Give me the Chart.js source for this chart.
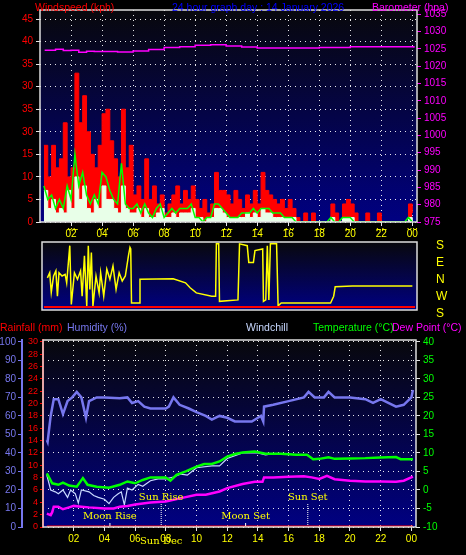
<!DOCTYPE html>
<html>
<head>
<meta charset="utf-8">
<script src="https://cdn.jsdelivr.net/npm/chart.js@4.4.1/dist/chart.umd.min.js"></script>
<style>
  body { margin: 0; background: #000; width: 466px; height: 555px; overflow: hidden; position: relative; font-family: "Liberation Sans", sans-serif; }
  canvas { position: absolute; left: 0; }
  .t { position: absolute; font-size: 10.5px; white-space: nowrap; line-height: 12px; }
  .dir { position: absolute; left: 436px; color: #ffff00; font-size: 12px; }
</style>
</head>
<body>
<canvas id="windChart" width="466" height="240" style="top:0"></canvas>
<canvas id="dirChart" width="466" height="95" style="top:228px"></canvas>
<canvas id="tempChart" width="466" height="225" style="top:330px"></canvas>

<div class="t" style="left:35px;top:1px;color:#ff0000">Windspeed (kph)</div>
<div class="t" style="left:172px;top:1px;color:#0000ff">24 hour graph day : 14 January 2026</div>
<div class="t" style="left:372px;top:1px;color:#ff00ff">Barometer (hpa)</div>

<div class="dir" style="top:238px">S</div>
<div class="dir" style="top:255px">E</div>
<div class="dir" style="top:272px">N</div>
<div class="dir" style="top:289px">W</div>
<div class="dir" style="top:306px">S</div>

<div class="t" style="left:0px;top:321px;color:#ff0000">Rainfall (mm)</div>
<div class="t" style="left:67px;top:321px;color:#7777ee">Humidity (%)</div>
<div class="t" style="left:246px;top:321px;color:#c8d8ff">Windchill</div>
<div class="t" style="left:313px;top:321px;color:#00ff00">Temperature (°C)</div>
<div class="t" style="left:392px;top:321px;color:#ff00ff">Dew Point (°C)</div>

<script>
// ---- wind (15 min samples from 00:15) ----
const windStart = 0.25;
const windStep = 0.25;
const gustValues = [17,10,17,12,14,22,10,12,33,22,28,20,15,12,17,24,25,18,14,10,25,12,17,6,
  8,5,14,5,8,4,6,2,4,6,8,4,7,5,8,5,3,5,2,4,11,7,7,6,4,7,5,3,6,4,7,4,11,7,6,5,4,5,3,5,3,1,
  0,2,0,2,0,0,0,0,4,2,0,4,5,4,2,0,0,2,0,0,2,0,0,0,0,0,0,0,4,2];
const avgValues = [8,5,6,3,5,3,8,5,15,8,11,6,4,6,4,11,10,7,5,4,13,4,3,3,
  4,2,4,2,1,3,4,1,2,3,2,3,3,3,4,1,1,0,1,1,4,4,3,2,1,1,1,2,2,2,3,2,3,3,3,2,2,2,1,1,1,0,
  0,0,0,0,0,0,0,0,1,0,0,1,1,1,0,0,0,0,0,0,0,0,0,0,0,0,0,0,1,0];
const speedValues = [7,3,5,2,3,2,7,3,10,5,8,3,2,5,3,8,5,5,3,2,8,3,2,2,
  3,1,3,1,1,2,3,1,1,2,1,2,2,2,3,1,1,0,1,1,3,3,2,1,1,1,1,1,2,1,2,1,3,2,2,1,1,1,1,1,1,0,
  0,0,0,0,0,0,0,0,1,0,0,1,1,1,0,0,0,0,0,0,0,0,0,0,0,0,0,0,1,0];
const windLeftLabels = ['0','5','10','15','30','35','30','35','40','45'];

const baroTimes = [0.3,1,1.5,2,2.5,3,3.5,4,5,6,7,8,9,10,11,12,13,14,16,17,18,20,22,23.5,24.1];
const baroValues = [1024.6,1024.9,1024.5,1024.6,1024.0,1024.3,1024.2,1024.2,1024.1,1024.4,1024.8,1025.4,1025.6,1026.0,1026.2,1025.8,1025.5,1025.2,1025.2,1025.2,1025.4,1025.6,1025.6,1025.6,1025.3];

// ---- wind direction (degrees, N = 0) ----
const dirTimes = [0.35,0.5,0.6,0.75,0.9,1.0,1.1,1.3,1.5,1.6,1.8,1.9,2.1,2.3,2.5,2.6,2.75,2.9,3.0,3.1,3.2,3.3,3.5,3.7,3.8,4.0,4.2,4.4,4.6,4.8,5.0,5.2,5.4,5.6,5.7,5.75,5.8,
  6.3,6.35,8.5,9.3,9.6,10,11.0,11.25,11.3,11.45,11.5,12.7,12.8,13.3,13.4,13.7,13.8,14.3,14.35,14.5,14.6,14.7,14.8,15.2,15.3,15.5,18.7,18.9,19.0,20.1,24.0];
const dirValues = [-10,18,-90,0,28,-110,18,0,9,-37,165,-155,18,-18,28,-110,110,-165,165,-73,128,-165,0,-92,18,-110,37,-18,55,-73,18,-27,0,110,156,147,-147,
  -147,-18,-15,-37,-64,-92,-110,-110,175,175,-138,-130,175,165,74,74,138,147,-138,-130,165,-130,175,175,-162,-147,-147,-110,-59,-55,-55];

// ---- temperature panel ----
const humTimes = [0.25,0.3,0.5,0.7,1.0,1.3,1.6,1.9,2.2,2.5,2.8,3.0,3.5,4.0,5.0,5.5,5.8,6.2,6.6,7.0,8.0,8.2,8.5,8.9,9.5,10,10.6,11,11.5,12,12.5,13,13.6,14,14.2,14.35,14.4,15,16,17,17.3,17.7,18.3,18.6,19,20,21,21.5,22,23,23.5,24,24.1];
const humValues = [47,46,60,69,69,61,68,70,73,70,59,68,70,70,69.5,70,67,68,65,64,64,65,70,66,64,62,60,58,60,59,57,57,57,59,60,57,65,66,68,70,73,70,70,73,70,70,69,67,69,65,66,70,74];

const tempTimes = [0.25,0.6,1.0,1.3,1.7,2.2,2.6,2.9,3.5,4.3,5.0,5.5,6.0,6.5,7.0,8.0,8.3,8.7,9.3,10,10.5,11,11.5,12,12.5,13,13.8,14.5,15.5,16.5,17.2,17.6,18,18.6,19,20,21,22,23,23.3,24.1];
const tempValues = [4.5,1.8,1.4,2.0,1.2,0.9,3.2,1.4,0.9,0.6,1.4,2.3,1.8,2.7,3.4,3.4,2.5,4.1,5.0,6.3,7.0,7.0,7.7,9.0,9.7,10.1,10.4,9.8,9.8,9.5,9.5,8.3,8.4,8.8,8.4,8.5,8.6,8.8,8.9,8.3,8.3];

const dewTimes = [0.25,0.5,0.6,0.7,1.0,1.3,1.7,2.0,2.5,3.0,4.0,4.6,5.0,5.5,6.0,7.0,8.0,9.0,10.0,10.6,11.5,12.0,13,13.8,14.3,14.4,15,16,17,17.5,18,18.5,19,20,21,22,23,23.5,24.1];
const dewValues = [-6.4,-6.8,-6.0,-4.5,-4.5,-5.2,-4.7,-4.3,-4.5,-4.7,-5.0,-5.0,-4.5,-4.3,-3.9,-3.4,-3.1,-2.2,-1.3,-1.3,-0.4,0.5,1.6,2.2,2.2,3.4,3.4,3.6,3.7,3.4,3.0,3.8,2.9,2.5,2.3,2.3,2.2,2.5,3.6];

const chillTimes = [0.25,0.5,0.8,1.0,1.3,1.6,1.8,2.1,2.3,2.5,3.0,3.3,3.6,4.0,4.3,4.6,4.9,5.1,5.3,5.5,5.8,6.2,6.5,7.0,7.5,8.0,8.5,9.0,9.4,9.7,10,11,11.5,12,13,14,14.5,15];
const chillValues = [4,0,-0.5,-1,0,-2,0,-1,-3.5,0,-0.5,-1.5,-2,-2.5,-3.7,-2,-1,-0.5,-4,0.5,0,1.5,1,2.5,3,3,3.5,4.3,4,5,6,6.5,6.5,8.5,10,10,9.5,9.8];

const rainTimes = [0.25,24.1];
const rainValues = [0,0];

const eventNames = ['Moon Rise','Sun Rise','Moon Set','Sun Set'];
const eventHours = [4.36,7.7,13.2,17.25];

const hourLabel = v => (v % 2 === 0 && v > 0) ? String(v % 24).padStart(2, '0') : '';
const pts = (xs, ys) => xs.map((x, i) => ({ x: x, y: ys[i] }));
const windPts = vals => vals.map((v, i) => ({ x: windStart + i * windStep, y: v }));
const font = { family: 'Liberation Sans', size: 10 };
const dotted = { color: 'rgba(255,255,255,0.9)', lineWidth: 1, tickLength: 4 };
const hourTicks = s => { s.ticks = [2,4,6,8,10,12,14,16,18,20,22,24].map(v => ({ value: v })); };
const fixed = list => s => { s.ticks = list.map(v => ({ value: v })); };

const plotBg = {
  id: 'plotBg',
  beforeDraw(chart) {
    const { ctx, chartArea: a } = chart;
    const g = ctx.createLinearGradient(0, a.top, 0, a.bottom);
    g.addColorStop(0, '#08080c');
    g.addColorStop(1, '#000082');
    ctx.save();
    ctx.fillStyle = g;
    ctx.fillRect(a.left, a.top, a.right - a.left, a.bottom - a.top);
    ctx.restore();
  },
  afterDraw(chart) {
    const { ctx, chartArea: a } = chart;
    ctx.save();
    ctx.strokeStyle = '#dddddd';
    ctx.lineWidth = 1.5;
    ctx.strokeRect(a.left, a.top, a.right - a.left, a.bottom - a.top);
    ctx.restore();
  }
};

function fixWidth(w) { return s => { s.width = w; }; }
function fixHeight(h) { return s => { s.height = h; }; }

Chart.defaults.animation = false;
Chart.defaults.plugins.legend.display = false;
Chart.defaults.plugins.tooltip.enabled = false;

// ---- top chart ----
new Chart(document.getElementById('windChart'), {
  type: 'line',
  data: {
    datasets: [
      { data: pts(baroTimes, baroValues), yAxisID: 'baro', borderColor: '#ff00ff', borderWidth: 1.5, pointRadius: 0, stepped: true, order: 0 },
      { data: windPts(avgValues), borderColor: '#00ff00', borderWidth: 1.5, pointRadius: 0, order: 1 },
      { data: windPts(speedValues), borderColor: '#e8ffe8', backgroundColor: '#e8ffe8', borderWidth: 1, fill: 'origin', stepped: true, pointRadius: 0, order: 2 },
      { data: windPts(gustValues), borderColor: '#ff0000', backgroundColor: '#ff0000', borderWidth: 1, fill: 'origin', stepped: true, pointRadius: 0, order: 3 }
    ]
  },
  options: {
    responsive: false,
    layout: { padding: { top: 10, bottom: 0 } },
    scales: {
      x: { type: 'linear', offset: false, min: 0, max: 24.3, afterFit: fixHeight(18), afterBuildTicks: hourTicks,
        ticks: { color: '#ffff00', font, padding: 2, maxRotation: 0, autoSkip: false, callback: hourLabel },
        grid: { ...dotted, drawTicks: true }, border: { dash: [1, 4], display: false } },
      y: { min: 0, max: 47, afterFit: fixWidth(40), afterBuildTicks: fixed([0,5,10,15,20,25,30,35,40,45]),
        ticks: { color: '#ff0000', font, padding: 3, autoSkip: false, callback: (v, i) => windLeftLabels[i] },
        grid: { ...dotted }, border: { dash: [1, 4], display: false } },
      baro: { position: 'right', min: 975, max: 1036.2, afterFit: fixWidth(49),
        afterBuildTicks: fixed([975,980,985,990,995,1000,1005,1010,1015,1020,1025,1030,1035]),
        ticks: { color: '#ff00ff', font, padding: 3, autoSkip: false, callback: v => String(v) },
        grid: { drawOnChartArea: false, color: '#ff00ff', tickLength: 4 }, border: { display: false } }
    }
  },
  plugins: [plotBg]
});

// ---- wind direction chart ----
const dirDecor = {
  id: 'dirDecor',
  afterDatasetsDraw(chart) {
    const { ctx, chartArea: a } = chart;
    ctx.save();
    ctx.strokeStyle = '#ff0000';
    ctx.lineWidth = 2;
    ctx.beginPath(); ctx.moveTo(a.left + 2, a.bottom - 3); ctx.lineTo(a.right - 2, a.bottom - 3); ctx.stroke();
    ctx.restore();
  }
};
new Chart(document.getElementById('dirChart'), {
  type: 'line',
  data: { datasets: [
    { data: pts(dirTimes, dirValues), borderColor: '#ffff00', borderWidth: 1.5, pointRadius: 0 }
  ] },
  options: {
    responsive: false,
    layout: { padding: { bottom: 13 } },
    scales: {
      x: { type: 'linear', position: 'top', min: 0, max: 24.3, afterFit: fixHeight(14), afterBuildTicks: hourTicks,
        ticks: { color: '#ffff00', font, padding: 1, maxRotation: 0, autoSkip: false, callback: hourLabel },
        grid: { display: false }, border: { display: false } },
      y: { min: -185, max: 185, afterFit: fixWidth(42), ticks: { display: false },
        grid: { display: false }, border: { display: false } },
      r2: { position: 'right', afterFit: fixWidth(49), ticks: { display: false }, grid: { display: false }, border: { display: false } }
    }
  },
  plugins: [plotBg, dirDecor]
});

// ---- temperature / humidity chart ----
const eventDecor = {
  id: 'eventDecor',
  afterDatasetsDraw(chart) {
    const { ctx, scales } = chart;
    const bottom = chart.chartArea.bottom;
    ctx.save();
    ctx.font = '10px "DejaVu Serif"';
    ctx.textAlign = 'center';
    eventNames.forEach((name, i) => {
      const x = scales.x.getPixelForValue(eventHours[i]);
      const isSun = name.startsWith('Sun');
      const labelY = isSun ? bottom - 27 : bottom - 8;
      ctx.strokeStyle = '#ffffff';
      ctx.setLineDash(isSun ? [1, 1] : []);
      ctx.beginPath(); ctx.moveTo(x, labelY + 4); ctx.lineTo(x, bottom - 1); ctx.stroke();
      ctx.fillStyle = '#ffff00';
      ctx.fillText(name, x, labelY);
    });
    ctx.setLineDash([]);
    ctx.fillText('Sun Dec', scales.x.getPixelForValue(eventHours[1]), bottom + 17);
    ctx.restore();
  }
};
new Chart(document.getElementById('tempChart'), {
  type: 'line',
  data: { datasets: [
    { data: pts(rainTimes, rainValues), yAxisID: 'rain', borderColor: '#ff0000', borderWidth: 3, pointRadius: 0 },
    { data: pts(humTimes, humValues), yAxisID: 'hum', borderColor: '#7777ee', borderWidth: 2.5, pointRadius: 0 },
    { data: pts(dewTimes, dewValues), yAxisID: 'temp', borderColor: '#ff00ff', borderWidth: 2.5, pointRadius: 0 },
    { data: pts(tempTimes, tempValues), yAxisID: 'temp', borderColor: '#00ff00', borderWidth: 2.5, pointRadius: 0 },
    { data: pts(chillTimes, chillValues), yAxisID: 'temp', borderColor: '#c8d8ff', borderWidth: 1.2, pointRadius: 0, order: 1 }
  ] },
  options: {
    responsive: false,
    layout: { padding: { top: 10 } },
    scales: {
      x: { type: 'linear', min: 0, max: 24.3, afterFit: fixHeight(28), afterBuildTicks: hourTicks,
        ticks: { color: '#ffff00', font, padding: 2, maxRotation: 0, autoSkip: false, callback: hourLabel },
        grid: { ...dotted, drawTicks: true }, border: { dash: [1, 4], display: false } },
      hum: { position: 'left', weight: 1, min: 0, max: 101, afterFit: fixWidth(22),
        afterBuildTicks: fixed([0,10,20,30,40,50,60,70,80,90,100]),
        ticks: { color: '#7777ee', font, padding: 2, autoSkip: false },
        grid: { drawOnChartArea: false, color: '#7777ee', tickLength: 4 }, border: { color: '#7777ee', width: 2 } },
      rain: { position: 'left', weight: 0, min: 0, max: 30.3, afterFit: fixWidth(21),
        afterBuildTicks: fixed([0,2,4,6,8,10,12,14,16,18,20,22,24,26,28,30]),
        ticks: { color: '#ff0000', font: { family: 'Liberation Sans', size: 9 }, padding: 2, autoSkip: false },
        grid: { drawOnChartArea: false, color: '#ff0000', tickLength: 3 }, border: { color: '#ff0000', width: 2 } },
      temp: { position: 'right', min: -10, max: 40.5, afterFit: fixWidth(50),
        afterBuildTicks: fixed([-10,-5,0,5,10,15,20,25,30,35,40]),
        ticks: { color: '#00ff00', font, padding: 3, autoSkip: false },
        grid: { ...dotted, tickLength: 4 }, border: { display: false, dash: [1, 4] } }
    }
  },
  plugins: [plotBg, eventDecor]
});
</script>
</body>
</html>
